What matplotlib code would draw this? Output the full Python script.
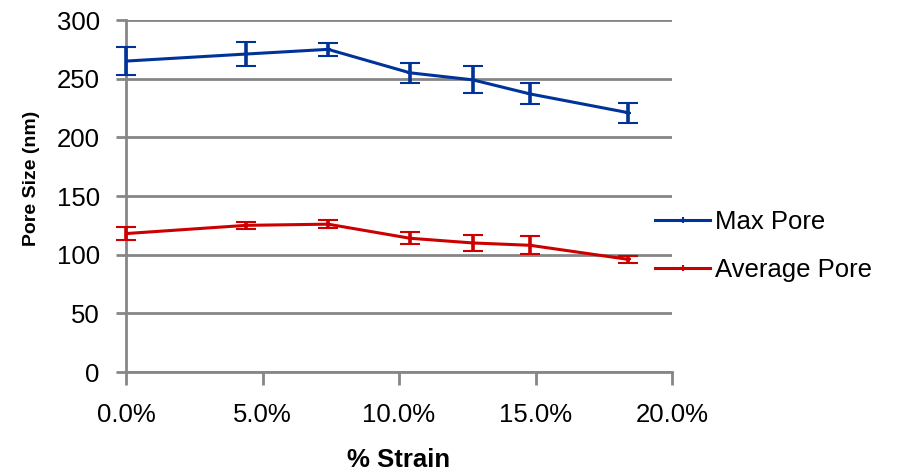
import matplotlib
matplotlib.use("Agg")
import matplotlib.pyplot as plt
from matplotlib.lines import Line2D
from matplotlib.ticker import FuncFormatter

plt.rcParams["font.family"] = ["Liberation Sans", "DejaVu Sans"]

# strain (%) for each measurement
strain = [0.0, 4.4, 7.4, 10.4, 12.7, 14.8, 18.4]

# max pore size (nm) and its error
max_pore = [265, 271, 275, 255, 249, 237, 221]
max_err = [12, 10, 5.5, 8.5, 11.5, 9, 8.5]

# average pore size (nm) and its error
avg_pore = [118, 125, 126, 114, 110, 108, 96]
avg_err = [5.5, 3, 3.5, 5, 6.5, 7.5, 3]

y_ticks = [0, 50, 100, 150, 200, 250, 300]
x_ticks = [0, 5, 10, 15, 20]

blue = "#003399"
red = "#cc0000"
grid_grey = "#868686"

fig = plt.figure(figsize=(8.99, 4.73), dpi=100)
ax = fig.add_axes([0.1402, 0.2135, 0.6073, 0.7442])

handles = []
for y, err, col, name in [(max_pore, max_err, blue, "Max Pore"),
                          (avg_pore, avg_err, red, "Average Pore")]:
    cont = ax.errorbar(strain, y, yerr=err, color=col, lw=2.2, marker="+",
                       markersize=5, mew=1.5, ecolor=col, elinewidth=2.6,
                       capsize=7, capthick=2.6, zorder=3)
    for art in cont.lines[1] + cont.lines[2]:
        art.set_clip_on(False)
    handles.append(Line2D([], [], color=col, lw=2.2, marker="+",
                          markersize=5, mew=1.5, label=name))

ax.set_xlim(0, 20)
ax.set_ylim(0, 300)
ax.set_xticks(x_ticks)
ax.set_yticks(y_ticks)
ax.xaxis.set_major_formatter(FuncFormatter(lambda v, p: f"{v:.1f}%"))

ax.yaxis.grid(True, color=grid_grey, lw=2)
ax.set_axisbelow(True)
for side in ["top", "right"]:
    ax.spines[side].set_visible(False)
for side in ["left", "bottom"]:
    ax.spines[side].set_color(grid_grey)
    ax.spines[side].set_linewidth(2)

ax.tick_params(axis="both", colors=grid_grey, width=2, length=7,
               labelcolor="black", labelsize=18.5)
ax.tick_params(axis="y", pad=12)
ax.tick_params(axis="x", pad=13, length=9)

ax.set_xlabel("% Strain", fontsize=18.5, fontweight="bold", va="center")
ax.xaxis.set_label_coords(0.5, -0.25)
ax.set_ylabel("Pore Size (nm)", fontsize=14, fontweight="bold", va="center")
ax.yaxis.set_label_coords(-0.174, 0.551)

fig.legend(handles=handles, loc="center left", bbox_to_anchor=(0.7286, 0.48),
           frameon=False, fontsize=18.5, handlelength=2.14, handletextpad=0.2,
           labelspacing=0.9, borderpad=0, borderaxespad=0)

fig.savefig("out.png", dpi=100)
